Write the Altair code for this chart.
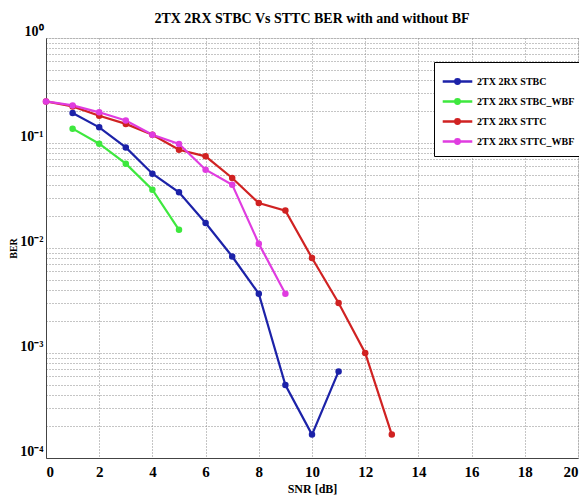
import altair as alt
import pandas as pd

# ---- data ----
series_names = ["2TX 2RX STBC", "2TX 2RX STBC_WBF", "2TX 2RX STTC", "2TX 2RX STTC_WBF"]
series_colors = ["#1c22a8", "#3ee83e", "#d02222", "#e03ce0"]

snr_stbc = [1, 2, 3, 4, 5, 6, 7, 8, 9, 10, 11]
ber_stbc = [0.193, 0.141, 0.0908, 0.051, 0.0339, 0.0173, 0.0083, 0.00367, 0.000496, 0.000167, 0.000668]

snr_stbc_bf = [1, 2, 3, 4, 5]
ber_stbc_bf = [0.137, 0.0985, 0.0635, 0.0359, 0.0149]

snr_sttc = [0, 1, 2, 3, 4, 5, 6, 7, 8, 9, 10, 11, 12, 13]
ber_sttc = [0.249, 0.223, 0.182, 0.152, 0.120, 0.0863, 0.0746, 0.0464, 0.0268, 0.0227, 0.00803, 0.00299, 0.001, 0.000167]

snr_sttc_bf = [0, 1, 2, 3, 4, 5, 6, 7, 8, 9]
ber_sttc_bf = [0.249, 0.228, 0.196, 0.164, 0.120, 0.0977, 0.0557, 0.0401, 0.011, 0.00367]

x_ticks = [0, 2, 4, 6, 8, 10, 12, 14, 16, 18, 20]
decades = [1e-4, 1e-3, 1e-2, 1e-1, 1]
decade_labels = ["10\u207b\u2074", "10\u207b\u00b3", "10\u207b\u00b2", "10\u207b\u00b9", "10\u2070"]

# ---- build table ----
rows = []
for name, xs, ys in zip(series_names,
                        [snr_stbc, snr_stbc_bf, snr_sttc, snr_sttc_bf],
                        [ber_stbc, ber_stbc_bf, ber_sttc, ber_sttc_bf]):
    for x, y in zip(xs, ys):
        rows.append({"series": name, "snr": x, "ber": y})
df = pd.DataFrame(rows)

# grid values at every 1..9 x 10^k
grid_vals = []
for d in decades[:-1]:
    for m in range(1, 10):
        grid_vals.append(round(m * d, 10))
grid_vals.append(1)

label_expr = " : ".join(
    f"datum.value == {v} ? '{l}'" for v, l in zip(decades, decade_labels)
) + " : ''"

FONT = "Liberation Serif"

color_scale = alt.Scale(domain=series_names, range=series_colors)

sym_path = "M-1.35,0H1.35M-0.2,0A0.2,0.2,0,1,1,0.2,0A0.2,0.2,0,1,1,-0.2,0Z"


def make_legend():
    return alt.Legend(
        title=None, orient="none", legendX=388, legendY=24,
        strokeColor="black", fillColor="white", padding=7,
        rowPadding=0, symbolType=sym_path, symbolSize=480,
        symbolStrokeWidth=2.5, symbolOffset=4, labelFont=FONT, labelFontSize=10,
        labelFontWeight="bold", labelColor="black", labelOffset=7)


x_enc = alt.X("snr:Q",
              scale=alt.Scale(domain=[0, 20], nice=False),
              axis=alt.Axis(values=x_ticks, title="SNR [dB]", format="d",
                            grid=True, gridDash=[1, 2], gridColor="#8a8a8a",
                            labelFont=FONT, labelFontSize=15, labelFontWeight="bold",
                            labelColor="black", labelPadding=6,
                            titleFont=FONT, titleFontSize=12, titleFontWeight="bold",
                            titleColor="black", titlePadding=4,
                            domain=True, domainColor="#444444", ticks=False))
y_enc = alt.Y("ber:Q",
              scale=alt.Scale(type="log", domain=[1e-4, 1], nice=False),
              axis=alt.Axis(values=grid_vals, title="BER", labelExpr=label_expr,
                            grid=True, gridDash=[1, 2], gridColor="#8a8a8a",
                            labelFont=FONT, labelFontSize=14, labelFontWeight="bold",
                            labelColor="black", labelPadding=3, labelBaseline="bottom",
                            labelOverlap=False,
                            titleFont=FONT, titleFontSize=10, titleFontWeight="bold",
                            titleColor="black", titlePadding=1,
                            domain=True, domainColor="#444444", ticks=False))

base = alt.Chart(df)

lines = base.mark_line(strokeWidth=2.2).encode(
    x=x_enc, y=y_enc,
    color=alt.Color("series:N", scale=color_scale, sort=series_names, legend=make_legend()),
)

points = base.mark_point(filled=False, size=25, opacity=1, strokeWidth=1.5).encode(
    x=x_enc, y=y_enc,
    color=alt.Color("series:N", scale=color_scale, sort=series_names, legend=make_legend()),
    fill=alt.Fill("series:N", scale=color_scale, sort=series_names, legend=make_legend()),
)

chart = alt.layer(lines, points).properties(
    width=532, height=420,
    title=alt.TitleParams("2TX 2RX STBC Vs STTC BER with and without BF",
                          font=FONT, fontSize=14, fontWeight="bold", color="black",
                          offset=-2, anchor="middle"),
    autosize=alt.AutoSizeParams(type="none"),
    padding={"left": 38, "top": 30, "right": 1, "bottom": 40},
).configure_view(stroke="#444444", strokeWidth=1.2).configure(background="white")

chart.save("out.html", embed_options={"renderer": "svg", "actions": False})
